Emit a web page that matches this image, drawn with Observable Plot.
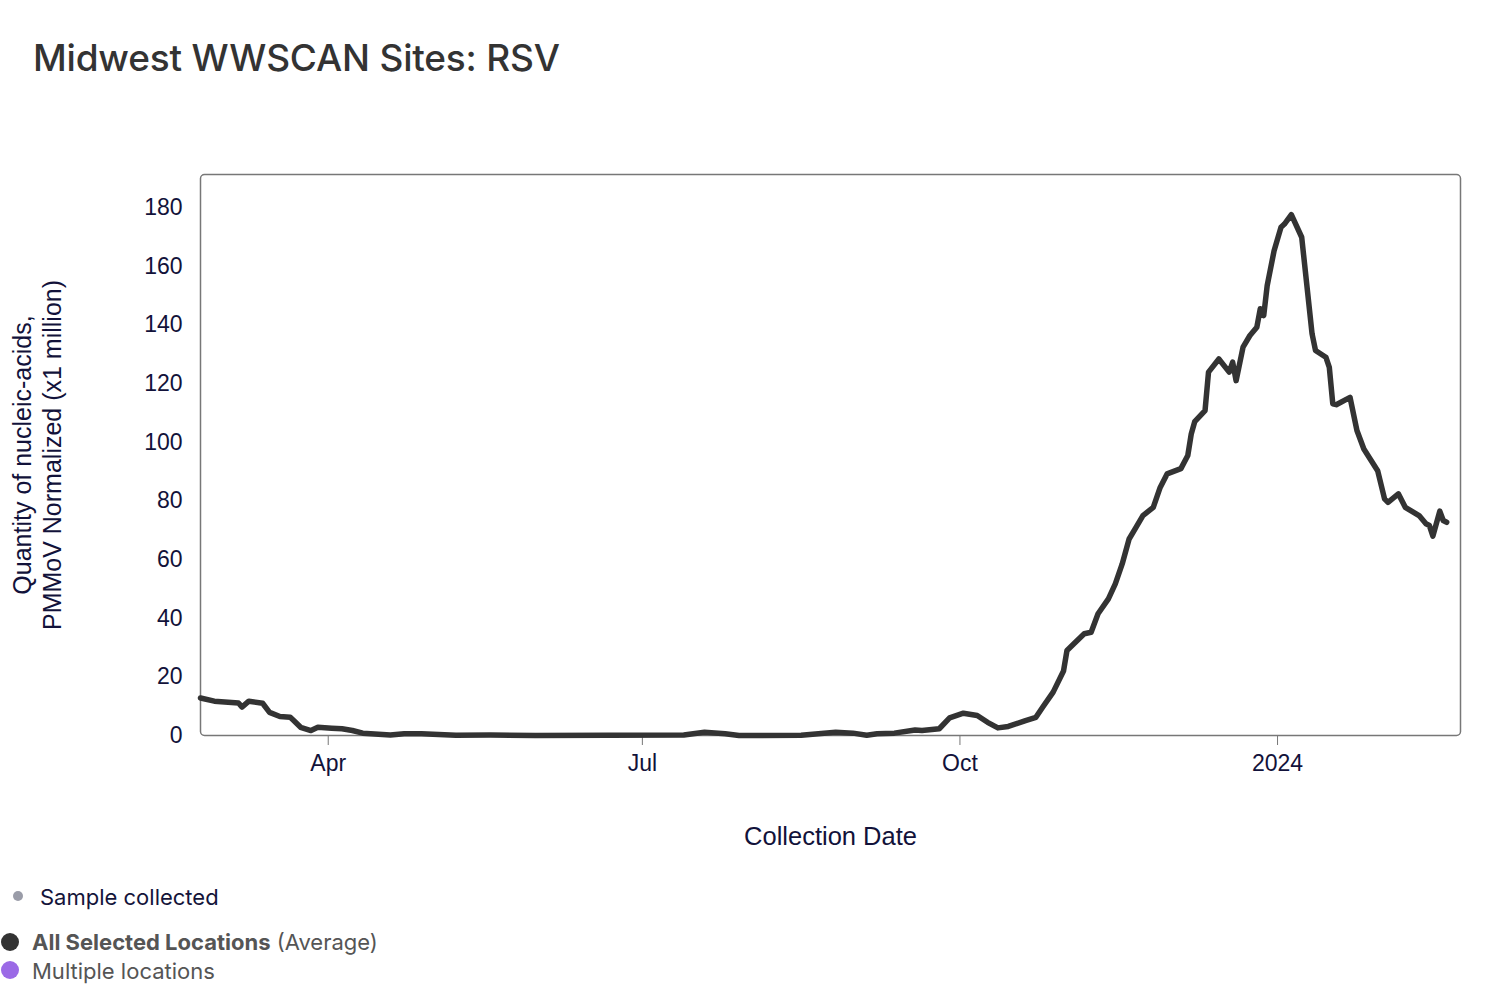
<!DOCTYPE html>
<html>
<head>
<meta charset="utf-8">
<script src="https://cdn.jsdelivr.net/npm/d3@7"></script>
<script src="https://cdn.jsdelivr.net/npm/@observablehq/plot@0.6"></script>
<style>
  html, body { margin: 0; padding: 0; background: #fff; }
  body { width: 1500px; height: 1002px; position: relative; overflow: hidden; }
  #title { position: absolute; left: 33px; top: 35px; font: 500 37px Inter, "Noto Sans", sans-serif; color: #333; letter-spacing: -0.2px; }
  #chart { position: absolute; left: 0; top: 0; }
  .leg { position: absolute; font-family: Inter, "Noto Sans", sans-serif; font-size: 22px; white-space: nowrap; }
  .dot { position: absolute; border-radius: 50%; }
</style>
</head>
<body>
<div id="title">Midwest WWSCAN Sites: RSV</div>
<div id="chart"></div>

<div class="dot" style="left:13px;top:891px;width:10px;height:10px;background:#9a9ca8"></div>
<div class="leg" style="left:40px;top:884px;color:#14143a">Sample collected</div>
<div class="dot" style="left:1px;top:933px;width:18px;height:18px;background:#333"></div>
<div class="leg" style="left:32px;top:929px;color:#555"><b>All Selected Locations</b> (Average)</div>
<div class="dot" style="left:1px;top:961px;width:18px;height:18px;background:#9b6ae6"></div>
<div class="leg" style="left:32px;top:958px;color:#555">Multiple locations</div>

<script>
// Collection dates and RSV concentration (x1 million, PMMoV normalized)
const dates = [
  "2023-02-23","2023-02-27","2023-03-06","2023-03-07","2023-03-09","2023-03-13","2023-03-15","2023-03-18",
  "2023-03-21","2023-03-22","2023-03-24","2023-03-27","2023-03-29","2023-04-02","2023-04-05","2023-04-08",
  "2023-04-11","2023-04-19","2023-04-23","2023-04-28","2023-05-08","2023-05-18","2023-05-31","2023-06-21",
  "2023-07-13","2023-07-19","2023-07-25","2023-07-29","2023-08-16","2023-08-26","2023-08-31","2023-09-04",
  "2023-09-07","2023-09-12","2023-09-18","2023-09-20","2023-09-25","2023-09-28","2023-10-02","2023-10-06",
  "2023-10-09","2023-10-12","2023-10-15","2023-10-20","2023-10-23","2023-10-25","2023-10-28","2023-10-31",
  "2023-11-01","2023-11-03","2023-11-06","2023-11-08","2023-11-10","2023-11-13","2023-11-15","2023-11-17",
  "2023-11-19","2023-11-21","2023-11-23","2023-11-26","2023-11-28","2023-11-30","2023-12-04","2023-12-06",
  "2023-12-07","2023-12-08","2023-12-11","2023-12-12","2023-12-15","2023-12-18","2023-12-19","2023-12-20",
  "2023-12-22","2023-12-24","2023-12-26","2023-12-27","2023-12-28","2023-12-29","2023-12-31","2024-01-02",
  "2024-01-03","2024-01-05","2024-01-08","2024-01-11","2024-01-12","2024-01-15","2024-01-16","2024-01-17",
  "2024-01-18","2024-01-22","2024-01-24","2024-01-26","2024-01-30","2024-02-01","2024-02-02","2024-02-05",
  "2024-02-07","2024-02-11","2024-02-13","2024-02-14","2024-02-15","2024-02-17","2024-02-18","2024-02-19"
];
const values = [
  12.8, 11.7, 11.1, 9.7, 11.7, 11.0, 7.9, 6.5,
  6.2, 5.1, 2.8, 1.7, 2.8, 2.5, 2.3, 1.7,
  0.8, 0.2, 0.6, 0.6, 0.1, 0.2, 0.0, 0.1,
  0.2, 1.1, 0.6, 0.0, 0.1, 1.1, 0.8, 0.1,
  0.6, 0.8, 1.9, 1.7, 2.3, 6.0, 7.6, 6.8,
  4.5, 2.6, 3.1, 5.1, 6.2, 9.7, 14.8, 22.0,
  29.0, 31.3, 34.7, 35.2, 41.5, 46.6, 51.7, 58.5,
  67.0, 71.0, 75.0, 77.8, 84.6, 89.2, 91.0, 95.5,
  102.8, 107.0, 110.8, 123.9, 128.4, 123.9, 127.3, 121.0,
  132.4, 136.4, 139.2, 145.5, 143.2, 153.4, 165.3, 173.3,
  174.4, 177.6, 169.9, 137.0, 131.3, 129.0, 125.5, 113.1,
  112.8, 115.3, 104.0, 97.7, 90.3, 80.7, 79.5, 82.4,
  77.8, 75.0, 72.2, 71.6, 68.0, 76.5, 73.3, 72.7
];
const xTickDates = ["2023-04-01", "2023-07-01", "2023-10-01", "2024-01-01"];
const xTickLabels = ["Apr", "Jul", "Oct", "2024"];
const yTicks = [0, 20, 40, 60, 80, 100, 120, 140, 160, 180];
const xDomain = ["2023-02-23", "2024-02-23"];
const yDomain = [0, 191.3];
const xLabel = "Collection Date";
const yLabel = "Quantity of nucleic-acids,\nPMMoV Normalized (x1 million)";

const data = dates.map((d, i) => ({date: new Date(d), value: values[i]}));
const tickDates = xTickDates.map(d => new Date(d));
const labelFor = new Map(tickDates.map((d, i) => [+d, xTickLabels[i]]));

const tickFont = "Liberation Sans, Arial, Helvetica, sans-serif";

const chart = Plot.plot({
  width: 1500,
  height: 880,
  marginTop: 174,
  marginBottom: 145,
  marginLeft: 200,
  marginRight: 40,
  style: {fontFamily: tickFont, background: "transparent", overflow: "visible"},
  x: {type: "utc", domain: xDomain.map(d => new Date(d))},
  y: {domain: yDomain},
  marks: [
    Plot.axisY({ticks: yTicks, tickSize: 0, tickPadding: 18, fontSize: 23, fill: "#12123a", label: null}),
    Plot.axisX({ticks: tickDates, tickSize: 10, tickPadding: 9, fontSize: 23, stroke: "#777", fill: "#12123a",
      tickFormat: d => labelFor.get(+d), label: null}),
    Plot.frame({stroke: "#777", strokeWidth: 1.5, rx: 4}),
    Plot.lineY(data, {x: "date", y: "value", stroke: "#333", strokeWidth: 5.5, strokeLinejoin: "round", strokeLinecap: "round"}),
    Plot.text([xLabel], {frameAnchor: "bottom", dy: 109, fontSize: 25.5, fill: "#12123a", text: d => d}),
    Plot.text([yLabel], {frameAnchor: "left", dx: -164, rotate: -90, textAnchor: "middle", fontSize: 25, lineHeight: 1.2, fill: "#12123a", text: d => d})
  ]
});
document.getElementById("chart").appendChild(chart);
</script>
</body>
</html>
